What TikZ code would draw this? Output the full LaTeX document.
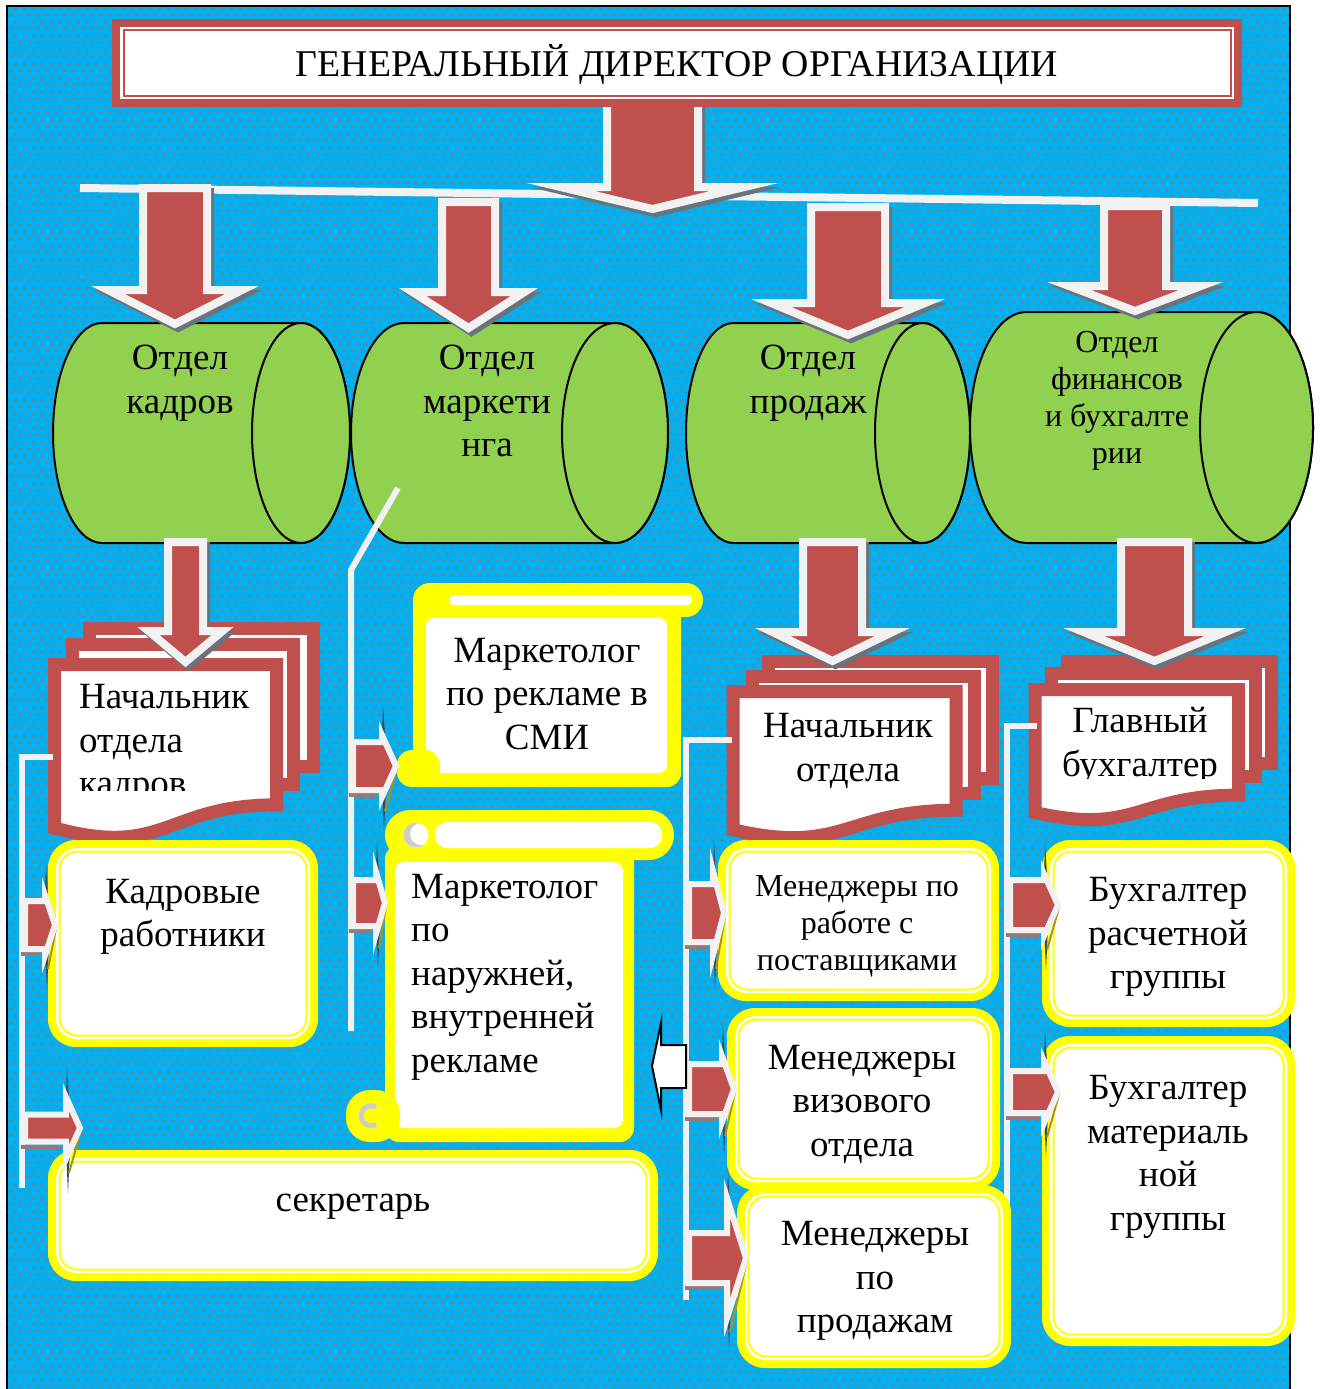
\documentclass[tikz,border=0pt]{standalone}
\usepackage{fontspec}
\setmainfont{Liberation Serif}
\usetikzlibrary{patterns}

\definecolor{skyblue}{RGB}{0,176,240}
\definecolor{dotgray}{RGB}{125,125,125}
\definecolor{brick}{RGB}{192,80,77}
\definecolor{paleline}{RGB}{242,242,242}
\definecolor{leaf}{RGB}{146,208,80}
\definecolor{lemon}{RGB}{255,255,0}
\definecolor{curlgray}{RGB}{205,205,205}
\definecolor{shadowgray}{RGB}{105,115,125}
\definecolor{wedgeshade}{RGB}{50,75,100}
\definecolor{barshade}{RGB}{150,120,120}
\definecolor{oliveshade}{RGB}{175,145,25}

% dotted fill of the backdrop
\pgfdeclarepatternformonly{skydots}{\pgfqpoint{0pt}{0pt}}{\pgfqpoint{9pt}{14pt}}{\pgfqpoint{9pt}{14pt}}{%
  \pgfpathellipse{\pgfqpoint{2.25pt}{3.5pt}}{\pgfqpoint{2.1pt}{0pt}}{\pgfqpoint{0pt}{1.1pt}}%
  \pgfpathellipse{\pgfqpoint{6.75pt}{10.5pt}}{\pgfqpoint{2.1pt}{0pt}}{\pgfqpoint{0pt}{1.1pt}}%
  \pgfusepath{fill}}

% big block arrow pointing down: centre x, top y, neck y, tip y, half body, half head
\newcommand\blockdown[6]{%
  \draw[bigshadow] ({#1-#5+3},{#2+4}) -- ({#1+#5+3},{#2+4}) -- ({#1+#5+3},{#3+4}) -- ({#1+#6+3},{#3+4})
    -- ({#1+3},{#4+4}) -- ({#1-#6+3},{#3+4}) -- ({#1-#5+3},{#3+4}) -- cycle;
  \draw[bigarrow] ({#1-#5},#2) -- ({#1+#5},#2) -- ({#1+#5},#3) -- ({#1+#6},#3)
    -- (#1,#4) -- ({#1-#6},#3) -- ({#1-#5},#3) -- cycle;}

% small feeder arrow pointing right: start x, head base x, tip x, centre y, half body, half head
\newcommand\feeder[6]{%
  \fill[wedgeshade] ({#2+1},{#4-#6-30}) -- ({#2+5},#4) -- ({#2+2},{#4+#6+34}) -- ({#2-1},#4) -- cycle;
  \fill[barshade] ({#1-4},{#4+#5+3}) rectangle ({#2-5},{#4+#5+7});
  \draw[oliveshade, line width=2pt] ({#3+1.5},{#4+1}) -- ({#2+3},{#4+#6+14});
  \draw[feederarrow] (#1,{#4-#5}) -- (#2,{#4-#5}) -- (#2,{#4-#6}) -- (#3,#4)
    -- (#2,{#4+#6}) -- (#2,{#4+#5}) -- (#1,{#4+#5}) -- cycle;}

% horizontal drum: left x, right x, top y, bottom y, end radius
\newcommand\drum[5]{%
  \draw[drumbody] ({#1+#5},#3) -- ({#2-#5},#3)
    arc[start angle=-90,end angle=90,x radius=#5,y radius={(#4-#3)/2}]
    -- ({#1+#5},#4) arc[start angle=90,end angle=270,x radius=#5,y radius={(#4-#3)/2}] -- cycle;
  \draw[drumbody] ({#2-#5},{(#3+#4)/2}) ellipse[x radius=#5,y radius={(#4-#3)/2}];}

% paper sheets: back sheet as a plain frame, front sheet with a wavy foot
\newcommand\backsheet[4]{\draw[sheet] (#1,#2) rectangle (#3,#4);}
\newcommand\frontsheet[4]{%
  \draw[sheet] (#1,#2) -- (#3,#2) -- (#3,{#2+0.802*#4})
    .. controls ({(#1+#3)/2},{#2+0.802*#4}) and ({(#1+#3)/2},{#2+1.1075*#4}) .. (#1,{#2+0.934*#4}) -- cycle;}

% rounded card with a yellow double frame
\newcommand\framedcard[4]{%
  \fill[lemon, rounded corners=28pt] (#1,#2) rectangle (#3,#4);
  \fill[white, rounded corners=21pt] ({#1+8},{#2+8}) rectangle ({#3-8},{#4-8});
  \draw[lemon, line width=2pt, rounded corners=18pt] ({#1+11.5},{#2+11.5}) rectangle ({#3-11.5},{#4-11.5});}

\begin{document}
\begin{tikzpicture}[x=1pt,y=-1pt,
  conn/.style={draw=paleline, line width=6pt},
  bigarrow/.style={fill=brick, draw=paleline, line width=8pt, line join=miter, miter limit=12},
  bigshadow/.style={fill=shadowgray, draw=shadowgray, line width=8pt, line join=miter, miter limit=12},
  feederarrow/.style={fill=brick, draw=paleline, line width=6pt, line join=miter, miter limit=12},
  drumbody/.style={fill=leaf, draw=black, line width=2pt},
  sheet/.style={fill=white, draw=brick, line width=13pt, line join=miter},
  txt/.style={inner sep=0pt, align=center, font=\fontsize{37}{43.5}\selectfont},
  txtsmall/.style={inner sep=0pt, align=center, font=\fontsize{32}{37}\selectfont}]

\useasboundingbox (0,0) rectangle (1322,1389);
\fill[white] (0,0) rectangle (1322,1389);

% backdrop
\fill[skyblue] (7,6) rectangle (1290,1395);
\fill[pattern=skydots, pattern color=dotgray] (7,6) rectangle (1290,1395);
\draw[black, line width=1.5pt] (7,1395) -- (7,6) -- (1290,6) -- (1290,1395);

% distribution bar under the director
\draw[draw=paleline, line width=8pt] (80,188) -- (1258,203);
\blockdown{652.5}{100}{187}{209}{45.5}{92}

% director
\fill[brick] (112,19) rectangle (1242,107);
\fill[white] (120,27) rectangle (1234,99);
\draw[brick, line width=2pt] (123.5,30.5) rectangle (1230.5,95.5);
\node[txt, font=\fontsize{37.8}{41}\selectfont] (director) at (677,65) {ГЕНЕРАЛЬНЫЙ ДИРЕКТОР ОРГАНИЗАЦИИ};

% departments
\drum{53}{350}{323}{543}{49}
\drum{351}{668}{323}{543}{53}
\drum{686}{970}{323}{543}{47.5}
\drum{970}{1313}{312}{543}{56.5}

\blockdown{175}{188}{290}{324}{32}{67}
\blockdown{468.5}{202}{292}{328}{26.5}{56}
\blockdown{848}{207}{303}{335}{37}{77}
\blockdown{1135}{206}{286}{311}{31}{66}

% heads of departments
\backsheet{89.5}{628.5}{313.5}{766.5}
\backsheet{72.5}{644.5}{293.5}{784.5}
\frontsheet{54.5}{664.5}{276.5}{175}

\backsheet{768.5}{661.5}{992.5}{778.5}
\backsheet{752.5}{676.5}{974.5}{793.5}
\frontsheet{733}{691.5}{956}{148}

\backsheet{1067.5}{661.5}{1271.5}{763.5}
\backsheet{1051.5}{673.5}{1255.5}{776.5}
\frontsheet{1035}{689.5}{1238.5}{131.7}

\blockdown{185.5}{542}{631}{662}{17.5}{37}
\blockdown{832.5}{542}{632}{661}{29.5}{60}
\blockdown{1154.5}{542}{632}{661}{33.5}{71}

% branch lines
\draw[conn] (53,757) -- (22,757) -- (22,1188);
\draw[conn] (398,488) -- (351,570) -- (351,1031);
\draw[conn] (732,740) -- (686,740) -- (686,1300);
\draw[conn] (1037,726) -- (1007,726) -- (1007,1263);

% staff cards
\framedcard{48}{840}{318}{1047}
\framedcard{48}{1150}{658}{1281}
\framedcard{718}{840}{999}{1001}
\framedcard{727}{1008}{1000}{1190}
\framedcard{737}{1185}{1011}{1368}
\framedcard{1042}{840}{1295}{1027}
\framedcard{1042}{1036}{1295}{1346}

% scroll for press marketing
\fill[lemon, rounded corners=14pt] (413,594) rectangle (681,787);
\fill[white, rounded corners=8pt] (426,618) rectangle (667,773);
\fill[lemon, rounded corners=17pt] (413,583) rectangle (703,617);
\fill[white, rounded corners=5pt] (449,595) rectangle (692,605);
\fill[lemon, rounded corners=15pt] (397,750) rectangle (440,787);

% scroll for outdoor marketing
\fill[lemon, rounded corners=14pt] (385,845) rectangle (634,1142);
\fill[white, rounded corners=9pt] (395,862) rectangle (623,1128);
\fill[lemon, rounded corners=25pt] (385,810) rectangle (674,860);
\fill[white, rounded corners=12pt] (435,822) rectangle (662,848);
\fill[white] (416,835) circle (12.5);
\begin{scope}
  \clip (416,835) circle (12.5);
  \fill[curlgray, even odd rule] (416,835) circle (12.5) (421,834) circle (11);
\end{scope}
\fill[lemon, rounded corners=24pt] (346,1090) rectangle (400,1142);
\draw[curlgray, line width=5pt] (376,1107) arc[start angle=-60, end angle=-300, radius=10];

% feeder arrows
\feeder{25}{45}{55}{925}{24}{30}
\feeder{25}{66}{80}{1128}{13.5}{31}
\feeder{353}{382}{396}{766}{24}{31}
\feeder{353}{376}{385}{903}{23}{31}
\feeder{689}{713}{724}{913}{29}{42}
\feeder{689}{722}{734}{1089}{25}{33}
\feeder{689}{727}{746}{1258}{25}{60}
\feeder{1010}{1044}{1058}{905}{25}{31}
\feeder{1010}{1044}{1058}{1092}{21}{31}

% return arrow
\draw[black, fill=white, line width=2pt, line join=miter] (686,1045) -- (661,1045) -- (661,1023) -- (652,1066)
  -- (661,1110) -- (661,1088) -- (686,1088) -- cycle;

% labels
\node[txt] (hr) at (180,383) {Отдел\\кадров};
\node[txt] (mkt) at (487,401) {Отдел\\маркети\\нга};
\node[txt] (sales) at (808,383) {Отдел\\продаж};
\node[txtsmall] (fin) at (1117,400.5) {Отдел\\финансов\\и бухгалте\\рии};

\begin{scope}
  \clip (60,670) rectangle (272,790);
  \node[txt, align=left, anchor=west] (hrhead) at (79,744) {Начальник\\отдела\\кадров};
\end{scope}
\node[txt] (saleshead) at (848,751) {Начальник\\отдела};
\begin{scope}
  \clip (1040,690) rectangle (1234,778);
  \node[txt] (chiefacc) at (1140,746) {Главный\\бухгалтер};
\end{scope}

\node[txt] (press) at (547,694) {Маркетолог\\по рекламе в\\СМИ};
\node[txt, align=left, anchor=west] (outdoor) at (411,977) {Маркетолог\\по\\наружней,\\внутренней\\рекламе};
\node[txt] (hrstaff) at (183,917) {Кадровые\\работники};
\node[txt] (secretary) at (353,1207) {секретарь};
\node[txtsmall] (suppliers) at (857,926) {Менеджеры по\\работе с\\поставщиками};
\node[txt] (visa) at (862,1104) {Менеджеры\\визового\\отдела};
\node[txt] (sellers) at (875,1281) {Менеджеры\\по\\продажам};
\node[txt] (payroll) at (1168,937) {Бухгалтер\\расчетной\\группы};
\node[txt] (material) at (1168,1157) {Бухгалтер\\материаль\\ной\\группы};

\end{tikzpicture}
\end{document}
